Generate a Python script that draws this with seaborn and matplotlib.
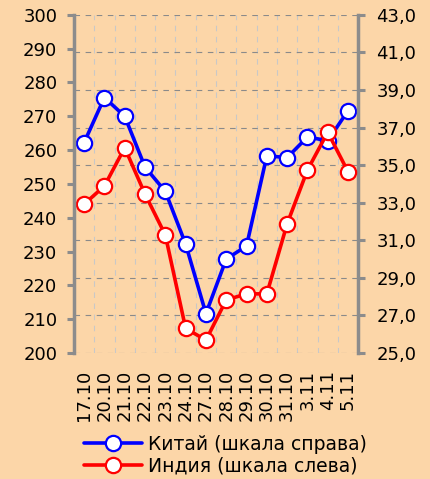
import numpy as np
import pandas as pd
import matplotlib
matplotlib.use("Agg")
import matplotlib.pyplot as plt
import seaborn as sns
from matplotlib.ticker import FuncFormatter, MultipleLocator

# -----------------------------
# Data
# -----------------------------
DATES = ["17.10", "20.10", "21.10", "22.10", "23.10", "24.10", "27.10",
         "28.10", "29.10", "30.10", "31.10", "3.11", "4.11", "5.11"]
CHINA = [36.2, 38.6, 37.6, 34.9, 33.6, 30.8, 27.1,
         30.0, 30.7, 35.5, 35.4, 36.5, 36.3, 37.9]      # right scale
INDIA = [244.0, 249.4, 260.7, 247.0, 234.9, 207.3, 203.8,
         215.7, 217.5, 217.5, 238.2, 254.1, 265.3, 253.6]  # left scale
RIGHT_TICKS = [25, 27, 29, 31, 33, 35, 37, 39, 41, 43]

LABEL_CHINA = "Китай (шкала справа)"
LABEL_INDIA = "Индия (шкала слева)"

BG = "#FCD6A8"
AXIS_GREY = "#8C8C8C"

# -----------------------------
# Plot
# -----------------------------
sns.set_theme(style="white")
plt.rcParams["font.family"] = ["DejaVu Sans"]
plt.rcParams["text.color"] = "black"

df = pd.DataFrame({"pos": np.arange(len(DATES)), "China": CHINA, "India": INDIA})

fig = plt.figure(figsize=(4.3, 4.79), dpi=100, facecolor=BG)
ax = fig.add_axes([0.172, 0.263, 0.661, 0.706])
ax2 = ax.twinx()
ax.set_zorder(ax2.get_zorder() + 1)
ax.patch.set_visible(False)
ax2.patch.set_visible(True)
ax2.patch.set_facecolor(BG)

line_kw = dict(linewidth=2.6, marker="o", markersize=11,
               markerfacecolor="white", markeredgewidth=1.6)

sns.lineplot(data=df, x="pos", y="China", ax=ax2, color="#0000FF",
             markeredgecolor="#0000FF", label=LABEL_CHINA, legend=False, **line_kw)
sns.lineplot(data=df, x="pos", y="India", ax=ax, color="#FF0000",
             markeredgecolor="#FF0000", label=LABEL_INDIA, legend=False, **line_kw)

ax.set_xlim(-0.5, len(DATES) - 0.5)
ax.set_ylim(200, 300)
ax2.set_ylim(25, 43)
ax.yaxis.set_major_locator(MultipleLocator(10))
ax2.set_yticks(RIGHT_TICKS)
ax2.yaxis.set_major_formatter(FuncFormatter(lambda v, p: f"{v:.1f}".replace(".", ",")))

ax.set_xticks(df["pos"])
ax.set_xticklabels(DATES, rotation=90)
for a in (ax, ax2):
    a.set_xlabel("")
    a.set_ylabel("")

# grid: horizontal from right scale, vertical at category boundaries
ax2.xaxis.set_visible(True)
ax2.set_xticks(np.arange(0.5, len(DATES) - 0.5, 1.0), minor=True)
ax2.grid(axis="y", which="major", color="#8A8A8A", linestyle=(0, (5, 5)), linewidth=0.8)
ax2.grid(axis="x", which="minor", color="#C8C8C8", linestyle=(0, (5, 5)), linewidth=0.8)
ax2.grid(axis="x", which="major", visible=False)
ax2.tick_params(axis="x", which="both", length=0, labelbottom=False, labeltop=False)

for a in (ax, ax2):
    for s in ("top", "bottom"):
        a.spines[s].set_visible(False)
ax.spines["right"].set_visible(False)
ax2.spines["left"].set_visible(False)
ax.spines["left"].set_color(AXIS_GREY)
ax.spines["left"].set_linewidth(2.5)
ax2.spines["right"].set_color(AXIS_GREY)
ax2.spines["right"].set_linewidth(2.5)

ax.tick_params(axis="y", left=True, length=5, width=2.2, color=AXIS_GREY,
               labelsize=13, pad=7, labelcolor="black")
ax2.tick_params(axis="y", right=True, length=5, width=2.2, color=AXIS_GREY,
                labelsize=13, pad=8, labelcolor="black")
ax.tick_params(axis="x", length=0, labelsize=13, pad=12, labelcolor="black")

handles = [ax2.get_lines()[0], ax.get_lines()[0]]
fig.legend(handles, [LABEL_CHINA, LABEL_INDIA], loc="lower left",
           bbox_to_anchor=(0.165, -0.02), frameon=False, fontsize=13.5,
           handlelength=3.1, handletextpad=0.3, labelspacing=0.15,
           borderpad=0.2, labelcolor="black")

fig.savefig("out.png", dpi=100, facecolor=BG)
